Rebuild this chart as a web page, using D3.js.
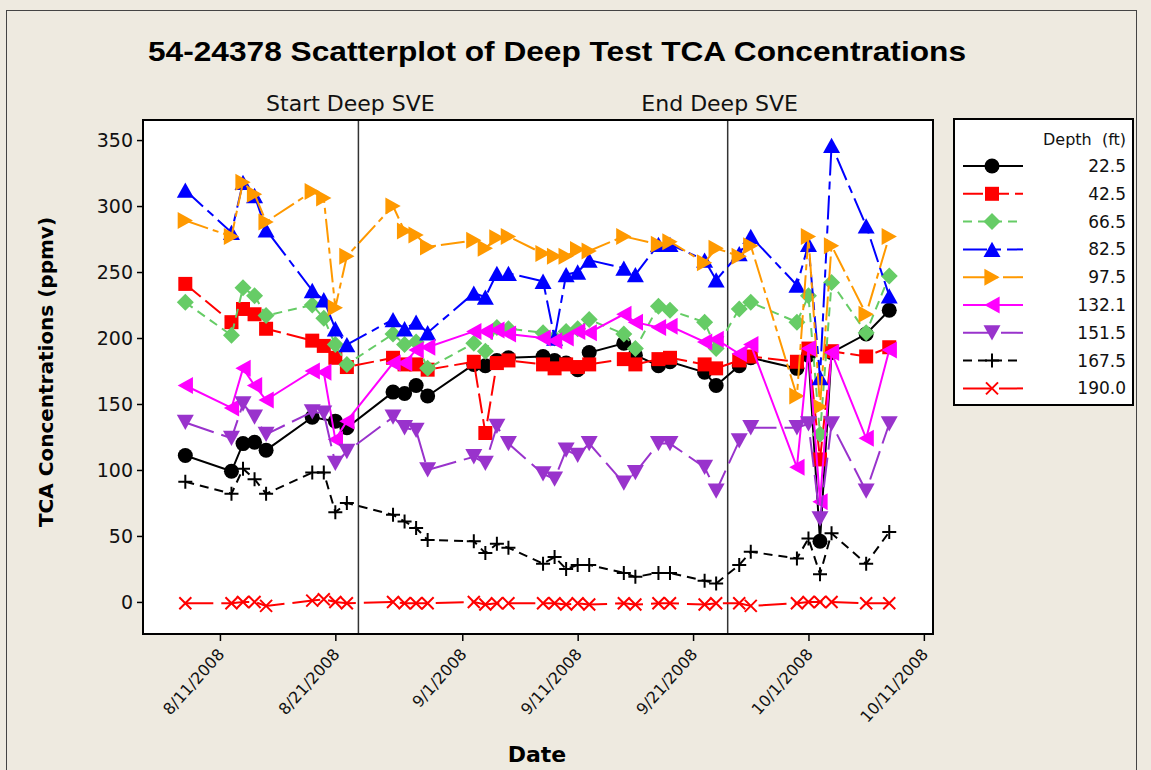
<!DOCTYPE html>
<html>
<head>
<meta charset="utf-8">
<script src="https://cdn.jsdelivr.net/npm/d3@7"></script>
<style>
  body { margin: 0; background: #eeeae0; }
  svg { display: block; font-family: "DejaVu Sans", sans-serif; }
</style>
</head>
<body>
<div id="graph"></div>
<script>
// ---- data ----
var sampleDates = ["8/8/2008","8/12/2008","8/13/2008","8/14/2008","8/15/2008","8/19/2008","8/20/2008","8/21/2008","8/22/2008",
  "8/26/2008","8/27/2008","8/28/2008","8/29/2008","9/2/2008","9/3/2008","9/4/2008","9/5/2008","9/8/2008","9/9/2008",
  "9/10/2008","9/11/2008","9/12/2008","9/15/2008","9/16/2008","9/18/2008","9/19/2008","9/22/2008","9/23/2008","9/25/2008",
  "9/26/2008","9/30/2008","10/1/2008","10/2/2008","10/3/2008","10/6/2008","10/8/2008"];

var depthLabels = ["22.5","42.5","66.5","82.5","97.5","132.1","151.5","167.5","190.0"];

var tca_225  = [111,99,120,121,115,140,null,137,132,159,158,164,156,
                180,179,183,185,186,183,181,176,189,196,187,179,182,174,164,179,185,177,
                187,46,189,203,221];
var tca_425  = [241,212,222,218,207,198,194,185,178,185,180,180,176,
                182,128,181,183,180,177,180,178,180,184,180,184,185,180,177,183,186,182,
                192,108,190,186,193];
var tca_665  = [227,202,238,232,217,225,215,195,180,203,195,197,177,
                196,190,208,207,204,200,205,207,214,203,192,224,221,212,192,222,227,212,
                232,127,242,204,247];
var tca_825  = [312,280,318,308,282,236,229,207,195,214,207,212,204,
                234,231,249,249,243,200,248,250,259,253,248,271,271,259,244,264,277,240,
                271,170,346,285,232];
var tca_975  = [289,277,318,309,288,311,306,223,262,300,281,278,269,
                274,268,276,277,264,262,262,267,266,277,null,271,273,257,268,262,270,156,
                277,148,270,218,277];
var tca_1321 = [164,147,177,164,153,175,174,123,137,181,181,191,193,
                205,205,206,203,200,198,200,205,204,218,212,208,209,197,199,188,195,102,
                192,76,189,124,191];
var tca_1515 = [136,124,150,140,127,144,143,105,114,140,132,130,100,
                110,105,133,120,97,93,115,111,120,90,98,120,120,102,84,122,132,132,
                135,63,135,84,135];
var tca_1675 = [91,82,101,93,82,98,98,68,75,66,61,56,47,
                46,37,44,41,29,34,25,28,28,22,19,22,22,16,14,28,38,33,
                48,21,52,29,53];
var tca_1900 = [-1,-1,0,0,-3,1,2,0,-1,0,-1,-1,-1,
                0,-2,-1,-1,-1,-1,-2,-1,-2,-1,-2,-1,-1,-2,-1,-1,-3,-1,
                0,0,0,-1,-1];

var xTickLabels = ["8/11/2008","8/21/2008","9/1/2008","9/11/2008","9/21/2008","10/1/2008","10/11/2008"];
var yTickValues = [0,50,100,150,200,250,300,350];
var sveDates  = ["8/23/2008","9/24/2008"];
var sveLabels = ["Start Deep SVE","End Deep SVE"];

// ---- styles ----
var seriesValues = [tca_225,tca_425,tca_665,tca_825,tca_975,tca_1321,tca_1515,tca_1675,tca_1900];
var seriesColors = ["#000000","#ff0000","#66cc66","#0000ff","#ff9900","#ff00ff","#9933cc","#000000","#ff0000"];
var seriesDash   = [null,"20,6","9,6","24,6,8,6","24,5,6,5",null,"30,8","9,6","28,8"];
var seriesShape  = ["circle","square","diamond","triUp","triRight","triLeft","triDown","plus","cross"];

// custom symbols (size = half extent), centred on their bounding box like Minitab
var shapes = {
  circle:  {draw: function(c, s){ c.moveTo(s,0); c.arc(0,0,s,0,2*Math.PI); }},
  square:  {draw: function(c, s){ c.rect(-s,-s,2*s,2*s); }},
  diamond: {draw: function(c, s){ c.moveTo(0,-s); c.lineTo(s,0); c.lineTo(0,s); c.lineTo(-s,0); c.closePath(); }},
  triUp:   {draw: function(c, s){ c.moveTo(0,-s*0.9); c.lineTo(s,s*0.9); c.lineTo(-s,s*0.9); c.closePath(); }},
  triDown: {draw: function(c, s){ c.moveTo(0,s*0.9); c.lineTo(s,-s*0.9); c.lineTo(-s,-s*0.9); c.closePath(); }},
  triRight:{draw: function(c, s){ c.moveTo(s*0.9,0); c.lineTo(-s*0.9,-s); c.lineTo(-s*0.9,s); c.closePath(); }},
  triLeft: {draw: function(c, s){ c.moveTo(-s*0.9,0); c.lineTo(s*0.9,-s); c.lineTo(s*0.9,s); c.closePath(); }},
  plus:    {draw: function(c, s){ c.moveTo(-s,0); c.lineTo(s,0); c.moveTo(0,-s); c.lineTo(0,s); }},
  cross:   {draw: function(c, s){ c.moveTo(-s,-s); c.lineTo(s,s); c.moveTo(s,-s); c.lineTo(-s,s); }}
};
var shapeSize = {circle:7.5, square:7, diamond:8.5, triUp:8.5, triDown:8.5, triRight:8.5, triLeft:8.5, plus:7, cross:6};

//Display specifications
var W = 1151, H = 770;
var plot = {left:143, top:120, right:933, bottom:634};

var parseDate = d3.timeParse("%m/%d/%Y");

var x = d3.scaleTime()
    .domain([new Date(2008,7,4,8), new Date(2008,9,11,19)])
    .range([plot.left, plot.right]);

var y = d3.scaleLinear()
    .domain([-24.3, 365.2])
    .range([plot.bottom, plot.top]);

var svg = d3.select("#graph").append("svg")
    .attr("width", W)
    .attr("height", H);

// background + outer border
svg.append("rect").attr("width", W).attr("height", H).attr("fill", "#eeeae0");
svg.append("rect").attr("x", 6.5).attr("y", 10.5).attr("width", 1130).attr("height", 800)
    .attr("fill", "none").attr("stroke", "#444").attr("stroke-width", 1);

//Title
svg.append("text")
    .attr("x", 557).attr("y", 61)
    .attr("text-anchor", "middle")
    .style("font-family", "'Liberation Sans', Arial, sans-serif")
    .style("font-weight", "bold")
    .style("font-size", "27px")
    .attr("textLength", 818)
    .attr("lengthAdjust", "spacingAndGlyphs")
    .text("54-24378 Scatterplot of Deep Test TCA Concentrations");

// plot area
svg.append("rect")
    .attr("x", plot.left).attr("y", plot.top)
    .attr("width", plot.right - plot.left).attr("height", plot.bottom - plot.top)
    .attr("fill", "#ffffff");

// SVE reference lines
sveDates.forEach(function(d, i) {
  var xx = x(parseDate(d));
  svg.append("line")
      .attr("x1", xx).attr("x2", xx)
      .attr("y1", plot.top).attr("y2", plot.bottom)
      .attr("stroke", "#333").attr("stroke-width", 1.5);
  svg.append("text")
      .attr("x", xx - 8).attr("y", 111)
      .attr("text-anchor", "middle")
      .style("font-size", "22px")
      .attr("fill", "#111")
      .text(sveLabels[i]);
});

//Y axis
var yAxis = svg.append("g")
    .attr("transform", "translate(" + plot.left + ",0)")
    .call(d3.axisLeft(y).tickValues(yTickValues).tickSize(6).tickPadding(4));
yAxis.select(".domain").remove();
yAxis.selectAll("line").attr("stroke", "#000").attr("stroke-width", 1.5);
yAxis.selectAll("text").style("font-size", "19px").style("font-family", "'DejaVu Sans', sans-serif").attr("fill", "#111");

//X axis
var xAxis = svg.append("g")
    .attr("transform", "translate(0," + plot.bottom + ")")
    .call(d3.axisBottom(x).tickValues(xTickLabels.map(parseDate)).tickSize(7)
          .tickFormat(function(d, i){ return xTickLabels[i]; }));
xAxis.select(".domain").remove();
xAxis.selectAll("line").attr("stroke", "#000").attr("stroke-width", 1.5);
xAxis.selectAll("text")
    .style("font-size", "16px")
    .style("font-family", "'DejaVu Sans', sans-serif")
    .attr("fill", "#111")
    .attr("text-anchor", "end")
    .attr("dy", "0.35em")
    .attr("transform", "translate(0,6) rotate(-48)")
    .attr("x", -8).attr("y", 8);

//Y label
svg.append("text")
    .attr("transform", "translate(53,372) rotate(-90)")
    .attr("text-anchor", "middle")
    .style("font-weight", "bold")
    .style("font-size", "20px")
    .text("TCA Concentrations (ppmv)");

//X label
svg.append("text")
    .attr("x", 537).attr("y", 762)
    .attr("text-anchor", "middle")
    .style("font-weight", "bold")
    .style("font-size", "22px")
    .text("Date");

// series
var line = d3.line()
    .x(function(d){ return x(d.date); })
    .y(function(d){ return y(d.v); });

var dates = sampleDates.map(parseDate);
var chart = svg.append("g");

function drawMarkers(g, pts, i) {
  var shp = seriesShape[i];
  var hollow = (shp === "plus" || shp === "cross");
  g.selectAll("path.mark").data(pts).enter().append("path")
      .attr("class", "mark")
      .attr("transform", function(d){ return "translate(" + x(d.date) + "," + y(d.v) + ")"; })
      .attr("d", d3.symbol().type(shapes[shp]).size(shapeSize[shp]))
      .attr("fill", hollow ? "none" : seriesColors[i])
      .attr("stroke", hollow ? seriesColors[i] : "none")
      .attr("stroke-width", hollow ? 2 : 0);
}

seriesValues.forEach(function(vals, i) {
  var pts = vals.map(function(v, k){ return {date: dates[k], v: v}; })
                .filter(function(d){ return d.v !== null; });
  var g = chart.append("g");
  g.append("path")
      .attr("d", line(pts))
      .attr("fill", "none")
      .attr("stroke", seriesColors[i])
      .attr("stroke-width", 2)
      .attr("stroke-dasharray", seriesDash[i]);
  drawMarkers(g, pts, i);
});

// frame on top
svg.append("rect")
    .attr("x", plot.left).attr("y", plot.top)
    .attr("width", plot.right - plot.left).attr("height", plot.bottom - plot.top)
    .attr("fill", "none").attr("stroke", "#000").attr("stroke-width", 2);

//Legend
var lg = svg.append("g");
lg.append("rect")
    .attr("x", 954).attr("y", 119).attr("width", 179).attr("height", 286)
    .attr("fill", "#fff").attr("stroke", "#000").attr("stroke-width", 2);
lg.append("text")
    .attr("x", 1126).attr("y", 145)
    .attr("text-anchor", "end")
    .style("font-size", "16px")
    .attr("fill", "#111")
    .attr("xml:space", "preserve")
    .text("Depth  (ft)");

depthLabels.forEach(function(lab, i) {
  var yy = 166 + i * 27.8;
  var row = lg.append("g");
  row.append("line")
      .attr("x1", 963).attr("x2", 1023).attr("y1", yy).attr("y2", yy)
      .attr("stroke", seriesColors[i]).attr("stroke-width", 2)
      .attr("stroke-dasharray", seriesDash[i]);
  var shp = seriesShape[i];
  var hollow = (shp === "plus" || shp === "cross");
  row.append("path")
      .attr("transform", "translate(992," + yy + ")")
      .attr("d", d3.symbol().type(shapes[shp]).size(shapeSize[shp]))
      .attr("fill", hollow ? "none" : seriesColors[i])
      .attr("stroke", hollow ? seriesColors[i] : "none")
      .attr("stroke-width", hollow ? 2 : 0);
  row.append("text")
      .attr("x", 1126).attr("y", yy + 6)
      .attr("text-anchor", "end")
      .style("font-size", "17px")
      .attr("fill", "#111")
      .text(lab);
});
</script>
</body>
</html>
